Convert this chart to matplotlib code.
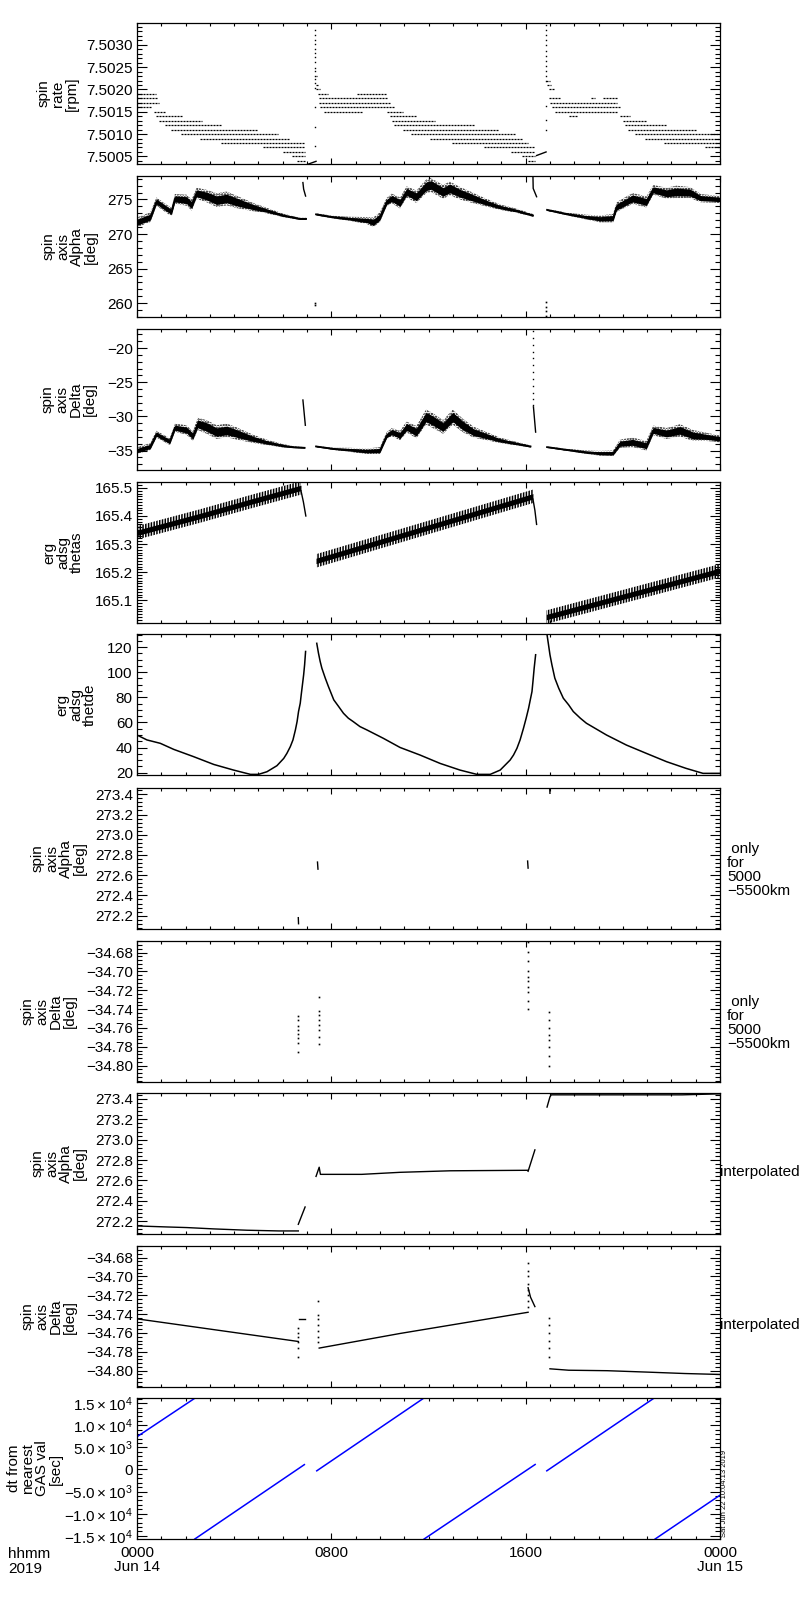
import numpy as np
import matplotlib
matplotlib.use('Agg')
import matplotlib.pyplot as plt
from matplotlib.ticker import MultipleLocator, FixedLocator, FuncFormatter

plt.rcParams['font.family'] = ['Liberation Sans', 'DejaVu Sans']
plt.rcParams['mathtext.fontset'] = 'custom'
plt.rcParams['mathtext.rm'] = 'Liberation Sans'
plt.rcParams['mathtext.it'] = 'Liberation Sans'
plt.rcParams['hatch.linewidth'] = 1.1

# ---------------- data (hours since 2019-06-14 00:00) ----------------
# Panel 1: spin rate quantised levels [rpm] with their time spans
rate_level = [7.5019, 7.5018, 7.5017, 7.5016, 7.5015, 7.5014, 7.5013, 7.5012, 7.5011,
              7.5010, 7.5009, 7.5008, 7.5007, 7.5006, 7.5005, 7.5004,
              7.5023, 7.5021, 7.5020, 7.5019, 7.5018, 7.5019, 7.5017, 7.5016, 7.5015, 7.5015,
              7.5014, 7.5013, 7.5012, 7.5011, 7.5010, 7.5009, 7.5008, 7.5007, 7.5006,
              7.5005, 7.5004,
              7.5022, 7.5021, 7.5020, 7.5018, 7.5018, 7.5018, 7.5017, 7.5016, 7.5015,
              7.5014, 7.5014, 7.5013, 7.5012, 7.5011, 7.5010, 7.5009, 7.5008, 7.5007]
rate_t0 = [0.0, 0.0, 0.0, 0.0, 0.7, 0.8, 0.9, 1.15, 1.4, 1.8, 2.6, 3.45, 5.2, 6.0, 6.4, 6.6,
           7.35, 7.38, 7.38, 7.45, 7.5, 9.04, 7.5, 7.55, 7.7, 10.3,
           10.4, 10.5, 10.6, 10.97, 11.3, 12.06, 12.96, 14.3, 15.4, 15.84, 16.1,
           16.84, 16.87, 16.95, 16.95, 18.7, 19.2, 17.0, 17.1, 17.2,
           17.8, 19.9, 20.0, 20.1, 20.2, 20.5, 20.9, 21.7, 23.4]
rate_t1 = [0.78, 0.83, 0.9, 0.6, 1.15, 1.9, 2.67, 3.5, 5.0, 5.8, 6.3, 6.9, 6.9, 6.9, 6.9, 6.9,
           7.4, 7.45, 7.55, 7.85, 10.3, 10.3, 10.4, 10.6, 9.25, 10.97,
           11.5, 12.27, 13.9, 14.9, 15.56, 15.84, 16.1, 16.4, 16.4, 16.4, 16.4,
           17.0, 17.05, 17.15, 17.4, 18.85, 19.8, 19.75, 19.9, 19.8,
           18.1, 20.3, 21.0, 21.8, 23.0, 24.0, 24.0, 24.0, 24.0]
rate_ramp1_t = [6.96, 7.37]
rate_ramp1_v = [7.50031, 7.50039]
rate_ramp2_t = [16.45, 16.84]
rate_ramp2_v = [7.50052, 7.50060]
rate_spike1_t = 7.33
rate_spike1_v = [7.50333, 7.50321, 7.50312, 7.50302, 7.50291, 7.50281, 7.50272, 7.50261,
                 7.50249, 7.50242, 7.50230, 7.50223, 7.50214, 7.50204, 7.50161, 7.50117, 7.50073]
rate_spike2_t = 16.84
rate_spike2_v = [7.50344, 7.50333, 7.50321, 7.50310, 7.50299, 7.50287, 7.50276, 7.50264,
                 7.50253, 7.50242, 7.50230, 7.50219, 7.50162, 7.50132, 7.50109]

# Panel 2: spin axis Alpha [deg] -- band centre and half width
alpha_t = [[0, 0.55, 0.8, 1.2, 1.42, 1.56, 2.04, 2.25, 2.45, 2.87, 3.28, 3.69, 4.1, 4.79, 5.34, 6.02, 6.71, 6.96],
           [7.37, 8.08, 8.77, 9.46, 9.73, 10.0, 10.28, 10.49, 10.83, 11.1, 11.5, 11.9, 12.1, 12.6, 12.88, 13.3, 13.7, 14.25, 14.94, 15.6, 16.3],
           [16.88, 17.7, 18.5, 19.06, 19.6, 19.74, 20.4, 20.97, 21.25, 21.8, 22.2, 22.77, 23.2, 24.0]]
alpha_c = [[271.7, 272.45, 274.7, 273.7, 273.2, 275.1, 274.9, 274.2, 275.9, 275.5, 274.9, 275.15, 274.65, 273.9, 273.4, 272.7, 272.2, 272.2],
           [272.85, 272.45, 272.2, 271.96, 271.7, 272.45, 274.65, 275.15, 274.5, 276.1, 275.4, 276.9, 277.1, 276.1, 276.6, 275.9, 275.4, 274.7, 273.9, 273.4, 272.7],
           [273.5, 272.9, 272.45, 272.2, 272.3, 273.9, 275.15, 274.65, 276.4, 275.9, 276.1, 276.0, 275.2, 275.0]]
alpha_h = [[0.7, 0.7, 0.6, 0.6, 0.6, 0.7, 0.8, 0.8, 0.8, 0.9, 1.0, 1.0, 0.9, 0.6, 0.4, 0.25, 0.15, 0.15],
           [0.15, 0.2, 0.3, 0.5, 0.7, 0.7, 0.6, 0.7, 0.8, 0.8, 0.9, 1.0, 1.0, 1.0, 1.0, 0.9, 0.8, 0.6, 0.4, 0.3, 0.2],
           [0.15, 0.2, 0.35, 0.5, 0.6, 0.7, 0.8, 0.8, 0.7, 0.8, 0.9, 0.8, 0.6, 0.5]]
alpha_spike_t = [[6.83, 6.86, 6.94], [16.3, 16.31, 16.45]]
alpha_spike_v = [[277.45, 276.5, 275.5], [278.3, 276.6, 275.4]]
alpha_low_t = [7.33, 7.33, 16.82, 16.82, 16.82, 16.82]
alpha_low_v = [260.0, 259.8, 260.2, 259.5, 258.8, 258.1]

# Panel 3: spin axis Delta [deg]
delta_t = [[0, 0.55, 0.8, 1.35, 1.56, 2.04, 2.3, 2.5, 2.87, 3.28, 3.69, 4.1, 4.79, 5.34, 6.02, 6.43, 6.9],
           [7.37, 8.08, 8.77, 9.46, 10.0, 10.28, 10.49, 10.83, 11.1, 11.5, 11.9, 12.17, 12.6, 13.0, 13.4, 13.85, 14.4, 14.94, 16.2],
           [16.88, 17.7, 18.5, 19.06, 19.6, 19.88, 20.4, 20.97, 21.25, 21.8, 22.35, 22.9, 23.45, 24.0]]
delta_c = [[-35.0, -34.4, -32.6, -33.7, -31.65, -32.0, -32.9, -31.1, -31.55, -32.3, -32.05, -32.5, -33.3, -33.8, -34.3, -34.5, -34.6],
           [-34.4, -34.75, -34.9, -35.1, -35.0, -32.8, -32.3, -32.8, -31.55, -32.3, -30.1, -30.6, -31.55, -30.1, -31.3, -32.3, -32.9, -33.5, -34.4],
           [-34.5, -34.9, -35.25, -35.4, -35.4, -34.0, -33.8, -34.3, -32.05, -32.5, -32.05, -32.8, -33.0, -33.3]]
delta_h = [[0.5, 0.5, 0.5, 0.5, 0.6, 0.7, 0.7, 0.9, 1.0, 1.0, 1.0, 0.9, 0.6, 0.4, 0.25, 0.15, 0.1],
           [0.1, 0.15, 0.3, 0.4, 0.5, 0.5, 0.6, 0.7, 0.8, 0.9, 1.1, 1.1, 1.0, 1.1, 1.0, 0.8, 0.6, 0.4, 0.15],
           [0.1, 0.15, 0.25, 0.35, 0.4, 0.6, 0.7, 0.7, 0.7, 0.8, 0.9, 0.8, 0.6, 0.5]]
delta_spike_t = [[6.83, 6.93], [16.32, 16.41]]
delta_spike_v = [[-27.6, -31.3], [-28.6, -32.3]]
delta_dots_t = 16.3
delta_dots_v = [-17.5, -18.5, -19.5, -20.5, -21.5, -22.5, -23.5, -24.5, -25.5, -26.5, -27.5, -28.3]

# Panel 4: erg adsg thetas
thetas_t = [[0.0, 2.6, 4.65, 6.75], [7.37, 13.7, 16.3], [16.85, 24.0]]
thetas_v = [[165.34, 165.40, 165.45, 165.50], [165.24, 165.403, 165.47], [165.04, 165.205]]
thetas_amp = 0.024
thetas_drop_t = [[6.75, 6.85, 6.95], [16.3, 16.38, 16.45]]
thetas_drop_v = [[165.49, 165.45, 165.40], [165.46, 165.42, 165.37]]

# Panel 5: erg adsg thetde
thetde_t = [[0, 0.41, 0.96, 1.51, 2.33, 3.16, 3.98, 4.67, 5.0, 5.35, 5.76, 6.04, 6.17, 6.31, 6.42, 6.52,
             6.59, 6.65, 6.72, 6.76, 6.81, 6.86, 6.9, 6.94],
            [7.4, 7.47, 7.54, 7.61, 7.75, 7.88, 8.1, 8.3, 8.5, 8.7, 8.9, 9.18, 9.47, 10.14, 10.83, 11.65,
             12.48, 13.3, 13.99, 14.54, 14.95, 15.36, 15.5, 15.64, 15.77, 15.91, 16.02, 16.12, 16.19,
             16.26, 16.3, 16.35, 16.41],
            [16.88, 16.94, 17.0, 17.08, 17.2, 17.36, 17.55, 17.77, 17.96, 18.25, 18.5, 19.33, 20.15,
             20.97, 21.8, 22.6, 23.3, 24.0]]
thetde_v = [[50.0, 46.1, 43.4, 38.6, 32.8, 26.6, 22.1, 18.7, 18.7, 20.8, 25.6, 31.4, 35.4, 40.7, 46.1, 54.0,
             60.7, 68.7, 75.3, 82.0, 89.9, 97.9, 105.9, 116.5],
            [123.0, 115.2, 108.6, 103.2, 95.3, 88.6, 78.0, 72.7, 67.3, 63.4, 60.7, 56.7, 54.0, 47.4, 40.1, 34.1,
             27.4, 22.1, 18.7, 18.7, 22.1, 30.1, 34.1, 39.4, 46.1, 55.4, 63.4, 71.3, 78.0,
             84.6, 92.6, 103.2, 113.9],
            [129.8, 121.9, 113.9, 105.9, 95.3, 87.3, 79.3, 74.0, 68.7, 63.4, 59.4, 50.0, 42.0,
             35.4, 28.8, 23.5, 19.5, 19.5]]

# Panel 6: spin axis Alpha, only for 5000-5500 km
alpha_only_t = [[6.64, 6.65], [7.43, 7.45], [16.08, 16.1], [16.99, 17.0]]
alpha_only_v = [[272.18, 272.12], [272.73, 272.66], [272.74, 272.67], [273.46, 273.41]]

# Panel 7: spin axis Delta, only for 5000-5500 km
delta_only_t = [6.64, 7.5, 16.1, 16.97]
delta_only_v = [[-34.747, -34.752, -34.758, -34.762, -34.766, -34.771, -34.776, -34.785],
                [-34.727, -34.742, -34.746, -34.752, -34.757, -34.762, -34.770, -34.777],
                [-34.669, -34.679, -34.689, -34.700, -34.706, -34.710, -34.716, -34.722, -34.731, -34.740],
                [-34.743, -34.752, -34.760, -34.767, -34.773, -34.780, -34.790, -34.800]]

# Panel 8: spin axis Alpha, interpolated
alpha_int_t = [[0, 1.24, 2.06, 3.16, 4.53, 5.84, 6.64], [6.64, 6.92],
               [7.37, 7.5, 7.55, 9.25, 10.83, 12.9, 16.1], [16.1, 16.38],
               [16.88, 17.0, 17.05, 22.45, 24.0]]
alpha_int_v = [[272.154, 272.144, 272.138, 272.125, 272.112, 272.105, 272.105], [272.17, 272.34],
               [272.64, 272.73, 272.66, 272.66, 272.68, 272.695, 272.70], [272.69, 272.90],
               [273.32, 273.42, 273.44, 273.44, 273.45]]

# Panel 9: spin axis Delta, interpolated
delta_int_t = [[0, 6.64], [6.66, 6.9], [7.5, 10.83, 16.1], [16.1, 16.2, 16.38],
               [17.0, 17.77, 19.35, 21.0, 22.55, 24.0]]
delta_int_v = [[-34.745, -34.769], [-34.745, -34.745], [-34.776, -34.7605, -34.738],
               [-34.712, -34.722, -34.732],
               [-34.798, -34.7995, -34.800, -34.8015, -34.803, -34.804]]
delta_int_dots_t = [6.64, 7.47, 16.1, 16.97]
delta_int_dots_v = [[-34.755, -34.760, -34.764, -34.770, -34.776, -34.785],
                    [-34.726, -34.741, -34.745, -34.752, -34.758, -34.764, -34.770],
                    [-34.686, -34.694, -34.700, -34.708, -34.714, -34.720, -34.726, -34.732],
                    [-34.744, -34.752, -34.760, -34.768, -34.776, -34.786]]

# Panel 10: dt from nearest GAS value [sec]
dt_t = [[0.0, 2.38], [2.38, 6.89], [7.4, 11.8], [11.82, 16.39], [16.87, 21.28], [21.33, 24.0]]
dt_v = [[7400, 16100], [-15700, 1100], [-300, 16100], [-15700, 1130], [-300, 16100], [-15700, -5800]]

# axis settings
ylabels = ['spin\nrate\n[rpm]', 'spin\naxis\nAlpha\n[deg]', 'spin\naxis\nDelta\n[deg]',
           'erg\nadsg\nthetas', 'erg\nadsg\nthetde', 'spin\naxis\nAlpha\n[deg]',
           'spin\naxis\nDelta\n[deg]', 'spin\naxis\nAlpha\n[deg]', 'spin\naxis\nDelta\n[deg]',
           'dt from\nnearest\nGAS val\n[sec]']
ylims = [(7.50033, 7.50349), (258.0, 278.4), (-37.85, -17.2), (165.019, 165.521), (18.2, 130.4),
         (272.068, 273.4625), (-34.8173, -34.6677), (272.075, 273.458), (-34.8173, -34.6677),
         (-15700, 16150)]
ymajor = [0.0005, 5, 5, 0.1, 20, 0.2, 0.02, 0.2, 0.02, 5000]
yminor = [0.0001, 1, 1, 0.01, 5, 0.04, 0.004, 0.04, 0.004, 1000]
yfmt = ['%.4f', '%d', '%d', '%.1f', '%d', '%.1f', '%.2f', '%.1f', '%.2f', None]
xtick_pos = [0, 8, 16, 24]
xtick_lab = ['0000\nJun 14', '0800', '1600', '0000\nJun 15']
right_notes = [None, None, None, None, None, ' only\nfor\n5000\n\u22125500km',
               ' only\nfor\n5000\n\u22125500km', 'interpolated', 'interpolated', None]
# right edge of each y title, in pixels from the left of the figure
ylabel_right_px = [79, 98, 97, 84, 97, 87, 77, 87, 77, 63]

# ---------------- figure ----------------
fig = plt.figure(figsize=(8, 16), dpi=100)
tops = [23, 176, 329, 482, 634, 788, 941, 1093, 1246, 1398]
H = 141
L, R = 137, 720
FS = 11


def mkfmt(f):
    return FuncFormatter(lambda v, p: (f % v).replace('-', '\u2212'))


def dtfmt(v, p):
    if abs(v) < 1e-6:
        return '0'
    e = 4 if abs(v) >= 9999 else 3
    return r'$\mathregular{%.1f\times10^{%d}}$' % (v / 10 ** e, e)


axes = []
for i, tp in enumerate(tops):
    ax = fig.add_axes([L / 800, 1 - (tp + H) / 1600, (R - L) / 800, H / 1600])
    axes.append(ax)
    ax.set_xlim(0, 24)
    ax.set_ylim(*ylims[i])
    ax.xaxis.set_major_locator(FixedLocator(xtick_pos))
    ax.xaxis.set_minor_locator(MultipleLocator(1))
    ax.yaxis.set_major_locator(MultipleLocator(ymajor[i]))
    ax.yaxis.set_minor_locator(MultipleLocator(yminor[i]))
    if yfmt[i] is None:
        ax.yaxis.set_major_formatter(FuncFormatter(dtfmt))
    else:
        ax.yaxis.set_major_formatter(mkfmt(yfmt[i]))
    ax.tick_params(axis='both', which='both', direction='in', top=True, right=True,
                   labelsize=FS, width=0.8, colors='k')
    ax.tick_params(axis='y', which='major', length=7, pad=3)
    ax.tick_params(axis='y', which='minor', length=3.6)
    ax.tick_params(axis='x', which='major', length=4, pad=5)
    ax.tick_params(axis='x', which='minor', length=2.5)
    if i < len(tops) - 1:
        ax.set_xticklabels([])
    else:
        ax.set_xticklabels(xtick_lab, linespacing=1.05)
    for s in ax.spines.values():
        s.set_linewidth(0.9)
    ax.set_ylabel(ylabels[i], fontsize=FS, linespacing=1.0)
    ax.yaxis.set_label_coords((ylabel_right_px[i] - L) / (R - L), 0.5)
    if right_notes[i]:
        if right_notes[i] == 'interpolated':
            ax.text(1.0, 0.44, right_notes[i], transform=ax.transAxes, fontsize=FS,
                    ha='left', va='center')
        else:
            ax.text(1.012, 0.42, right_notes[i], transform=ax.transAxes, fontsize=FS,
                    ha='left', va='center', linespacing=1.0)

# panel 1
ax = axes[0]
ax.hlines(rate_level, rate_t0, rate_t1, colors='k', linewidth=0.9, linestyles=(0, (1.6, 0.8)))
ax.plot(rate_ramp1_t, rate_ramp1_v, 'k-', lw=1)
ax.plot(rate_ramp2_t, rate_ramp2_v, 'k-', lw=1)
ax.plot([rate_spike1_t] * len(rate_spike1_v), rate_spike1_v, 'ks', ms=1.0, mew=0)
ax.plot([rate_spike2_t] * len(rate_spike2_v), rate_spike2_v, 'ks', ms=1.0, mew=0)

# panels 2, 3 : speckled outer band + solid core
for ax, T, C, Hh in ((axes[1], alpha_t, alpha_c, alpha_h), (axes[2], delta_t, delta_c, delta_h)):
    for t, c, h in zip(T, C, Hh):
        t = np.array(t); c = np.array(c); h = np.array(h)
        ax.fill_between(t, c - h, c + h, facecolor='none', edgecolor='k', hatch='......', lw=0)
        ax.fill_between(t, c - 0.62 * h, c + 0.62 * h, color='k', lw=0)
        ax.plot(t, c, 'k-', lw=1.3)
for t, v in zip(alpha_spike_t, alpha_spike_v):
    axes[1].plot(t, v, 'k-', lw=1)
axes[1].plot(alpha_low_t, alpha_low_v, 'ks', ms=1.2, mew=0)
for t, v in zip(delta_spike_t, delta_spike_v):
    axes[2].plot(t, v, 'k-', lw=1)
axes[2].plot([delta_dots_t] * len(delta_dots_v), delta_dots_v, 'ks', ms=1.0, mew=0)

# panel 4
ax = axes[3]
for t, v in zip(thetas_t, thetas_v):
    t = np.array(t); v = np.array(v)
    ax.fill_between(t, v - thetas_amp, v + thetas_amp, facecolor='none', edgecolor='k',
                    hatch='||||||', lw=0)
    ax.fill_between(t, v - thetas_amp * 0.4, v + thetas_amp * 0.4, color='k', lw=0)
for t, v in zip(thetas_drop_t, thetas_drop_v):
    ax.plot(t, v, 'k-', lw=1)

# panel 5
for t, v in zip(thetde_t, thetde_v):
    axes[4].plot(t, v, 'k-', lw=1.1)

# panel 6
for t, v in zip(alpha_only_t, alpha_only_v):
    axes[5].plot(t, v, 'k-', lw=1)

# panel 7
for t, v in zip(delta_only_t, delta_only_v):
    axes[6].plot([t] * len(v), v, 'ks', ms=1.2, mew=0)

# panel 8
for t, v in zip(alpha_int_t, alpha_int_v):
    axes[7].plot(t, v, 'k-', lw=1)

# panel 9
for t, v in zip(delta_int_t, delta_int_v):
    axes[8].plot(t, v, 'k-', lw=1)
for t, v in zip(delta_int_dots_t, delta_int_dots_v):
    axes[8].plot([t] * len(v), v, 'ks', ms=1.2, mew=0)

# panel 10
for t, v in zip(dt_t, dt_v):
    axes[9].plot(t, v, '-', color='#0000ff', lw=1.1)

# footer texts
fig.text(8 / 800, 1 - 1547 / 1600, 'hhmm\n2019', fontsize=FS, ha='left', va='top', linespacing=1.05)
fig.text(721 / 800, 1 - 1493 / 1600, 'Sat Jun 22 10:04:13 2019', fontsize=5.5, rotation=90,
         ha='left', va='center')

fig.savefig('out.png', dpi=100)
